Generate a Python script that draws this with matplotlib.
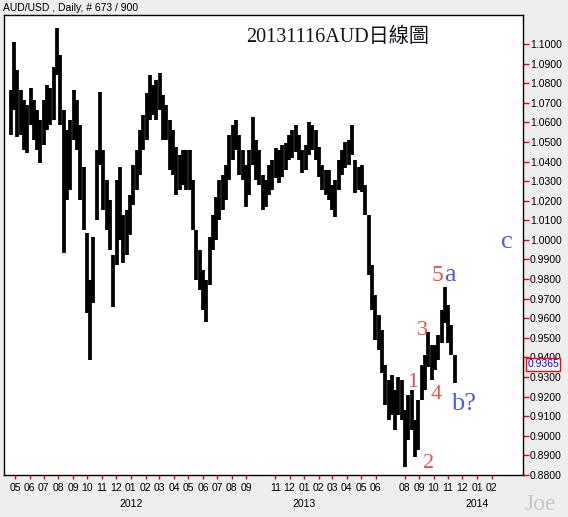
import pandas as pd
import matplotlib
matplotlib.use('Agg')
import matplotlib.pyplot as plt
import matplotlib.transforms as mtransforms

# weekly high / low (AUD/USD, Apr 2011 - Nov 2013)
week_ends = pd.date_range('2011-04-22', periods=135, freq='W-FRI')

highs = [
    1.0765, 1.1010, 1.0867, 1.0765, 1.0714, 1.0689, 1.0776, 1.0714, 1.0663, 1.0612,
    1.0714, 1.0791, 1.0776, 1.0883, 1.1082, 1.0944, 1.0663, 1.0561, 1.0612, 1.0765,
    1.0714, 1.0587, 1.0372, 1.0036, 0.9796, 1.0015, 1.0459, 1.0755, 1.0459, 1.0306,
    1.0204, 0.9924, 1.0306, 1.0372, 1.0128, 1.0153, 1.0230, 1.0383, 1.0459, 1.0561,
    1.0638, 1.0750, 1.0842, 1.0791, 1.0816, 1.0852, 1.0740, 1.0689, 1.0612, 1.0561,
    1.0474, 1.0434, 1.0459, 1.0459, 1.0459, 1.0306, 1.0051, 0.9949, 0.9847, 0.9796,
    1.0015, 1.0128, 1.0219, 1.0306, 1.0332, 1.0383, 1.0536, 1.0587, 1.0612, 1.0536,
    1.0459, 1.0383, 1.0459, 1.0628, 1.0510, 1.0459, 1.0332, 1.0306, 1.0383, 1.0408,
    1.0469, 1.0459, 1.0485, 1.0495, 1.0536, 1.0561, 1.0587, 1.0536, 1.0459, 1.0485,
    1.0602, 1.0587, 1.0561, 1.0474, 1.0383, 1.0357, 1.0357, 1.0281, 1.0306, 1.0408,
    1.0459, 1.0500, 1.0510, 1.0587, 1.0408, 1.0372, 1.0383, 1.0281, 1.0128, 0.9872,
    0.9719, 0.9617, 0.9541, 0.9362, 0.9286, 0.9311, 0.9235, 0.9301, 0.9286, 0.9133,
    0.9209, 0.9235, 0.9082, 0.9184, 0.9362, 0.9413, 0.9531, 0.9464, 0.9464, 0.9515,
    0.9643, 0.9760, 0.9668, 0.9566, 0.9413,
]

lows = [
    1.0536, 1.0663, 1.0526, 1.0536, 1.0459, 1.0444, 1.0587, 1.0510, 1.0459, 1.0393,
    1.0485, 1.0561, 1.0587, 1.0612, 1.0842, 1.0587, 0.9934, 1.0204, 1.0255, 1.0510,
    1.0459, 1.0204, 1.0051, 0.9628, 0.9388, 0.9679, 1.0102, 1.0383, 1.0153, 1.0051,
    0.9949, 0.9658, 0.9872, 1.0000, 0.9883, 0.9924, 1.0026, 1.0179, 1.0255, 1.0332,
    1.0459, 1.0510, 1.0612, 1.0638, 1.0612, 1.0663, 1.0510, 1.0510, 1.0357, 1.0332,
    1.0230, 1.0255, 1.0281, 1.0255, 1.0255, 1.0051, 0.9796, 0.9745, 0.9643, 0.9582,
    0.9770, 0.9949, 1.0000, 1.0102, 1.0153, 1.0204, 1.0306, 1.0408, 1.0459, 1.0332,
    1.0306, 1.0168, 1.0230, 1.0383, 1.0306, 1.0281, 1.0153, 1.0168, 1.0230, 1.0255,
    1.0316, 1.0291, 1.0321, 1.0357, 1.0408, 1.0418, 1.0449, 1.0408, 1.0342, 1.0357,
    1.0434, 1.0459, 1.0408, 1.0321, 1.0255, 1.0230, 1.0204, 1.0153, 1.0117, 1.0255,
    1.0332, 1.0367, 1.0383, 1.0434, 1.0240, 1.0255, 1.0245, 1.0128, 0.9821, 0.9643,
    0.9490, 0.9439, 0.9321, 0.9158, 0.9082, 0.9107, 0.9031, 0.9107, 0.9082, 0.8842,
    0.8980, 0.9031, 0.8893, 0.8929, 0.9184, 0.9235, 0.9352, 0.9286, 0.9337, 0.9388,
    0.9475, 0.9577, 0.9475, 0.9413, 0.9270,
]

last_close = 0.9365

# month ticks shown on the axis (some months are skipped in the original)
month_ticks = ['2011-05', '2011-06', '2011-07', '2011-08', '2011-09', '2011-10',
               '2011-11', '2011-12', '2012-01', '2012-02', '2012-03', '2012-04',
               '2012-05', '2012-06', '2012-07', '2012-08', '2012-09', '2012-11',
               '2012-12', '2013-01', '2013-02', '2013-03', '2013-04', '2013-05',
               '2013-06', '2013-08', '2013-09', '2013-10', '2013-11', '2013-12',
               '2014-01', '2014-02']
year_labels = ['2012', '2013', '2014']

price_ticks = [0.88 + 0.01 * i for i in range(23)]

# Elliott wave marks: (text, date, price, colour, size)
wave_marks = [
    ('5', '2013-10-10', 0.9791, '#f24a4a', 17),
    ('a', '2013-11-05', 0.9791, '#4a5fe0', 19),
    ('3', '2013-09-07', 0.9515, '#f0553a', 16),
    ('1', '2013-08-17', 0.9250, '#e8457a', 16),
    ('4', '2013-10-07', 0.9189, '#f0553a', 16),
    ('2', '2013-09-20', 0.8837, '#f24a4a', 16),
    ('b?', '2013-12-03', 0.9133, '#4a5fe0', 19),
    ('c', '2014-03-06', 0.9959, '#4a5fe0', 19),
]

BG = '#eeeeee'


def draw_chart():
    fig = plt.figure(figsize=(5.68, 5.17), dpi=100, facecolor=BG)
    ax = fig.add_axes([4 / 568, 42 / 517, 519 / 568, 460 / 517])
    ax.set_facecolor('white')

    ax.vlines(week_ends, lows, highs, color='black', linewidth=2.7)

    ax.set_xlim(pd.Timestamp('2011-04-08'), pd.Timestamp('2014-04-08'))
    ax.set_ylim(0.88, 1.1148)

    # x axis: month numbers with red tick marks
    tick_dates = [pd.Timestamp(m + '-01') for m in month_ticks]
    ax.set_xticks(tick_dates)
    ax.set_xticklabels([m[-2:] for m in month_ticks])
    ax.tick_params(axis='x', colors='red', length=3, width=1, pad=3,
                   labelcolor='black', labelsize=7.5)
    trans = mtransforms.blended_transform_factory(ax.transData, ax.transAxes)
    for y in year_labels:
        ax.text(pd.Timestamp(y + '-01-01'), -0.062, y, transform=trans,
                ha='center', va='center', fontsize=7.5, family='Liberation Sans')

    # y axis on the right
    ax.yaxis.tick_right()
    ax.set_yticks(price_ticks)
    ax.set_yticklabels(['%.4f' % p for p in price_ticks])
    ax.tick_params(axis='y', colors='red', length=4, width=1, pad=1,
                   labelcolor='black', labelsize=7.5)
    for lab in ax.get_xticklabels() + ax.get_yticklabels():
        lab.set_family('Liberation Sans')

    for sp in ax.spines.values():
        sp.set_color('black')
        sp.set_linewidth(1.0)

    # last price box
    ytrans = mtransforms.blended_transform_factory(ax.transAxes, ax.transData)
    ax.text(1.008, last_close, '%.4f' % last_close, transform=ytrans,
            ha='left', va='center', color='#0000ff', fontsize=7.5,
            family='Liberation Sans', zorder=5,
            bbox=dict(facecolor='white', edgecolor='red', linewidth=1,
                      boxstyle='square,pad=0.12'))

    # title and wave labels
    ax.text(0.6426, 0.941, '20131116AUD日線圖', transform=ax.transAxes,
            ha='center', va='baseline', fontsize=14.5, color='#111122',
            family=['Liberation Serif', 'Noto Sans CJK TC'])
    for txt, d, p, c, s in wave_marks:
        ax.text(pd.Timestamp(d), p, txt, ha='center', va='baseline',
                color=c, fontsize=s, family='Liberation Serif')

    fig.text(3 / 568, 1 - 8 / 517, 'AUD/USD , Daily, # 673 / 900',
             ha='left', va='center', fontsize=7.5, family='Liberation Sans')
    fig.text(540 / 568, 1 - 510 / 517, 'Joe', ha='center', va='baseline',
             fontsize=17, color='#c8c8c8', family='Liberation Serif')

    fig.savefig('out.png', dpi=100, facecolor=BG)


def main():
    draw_chart()


if __name__ == "__main__":
    main()
